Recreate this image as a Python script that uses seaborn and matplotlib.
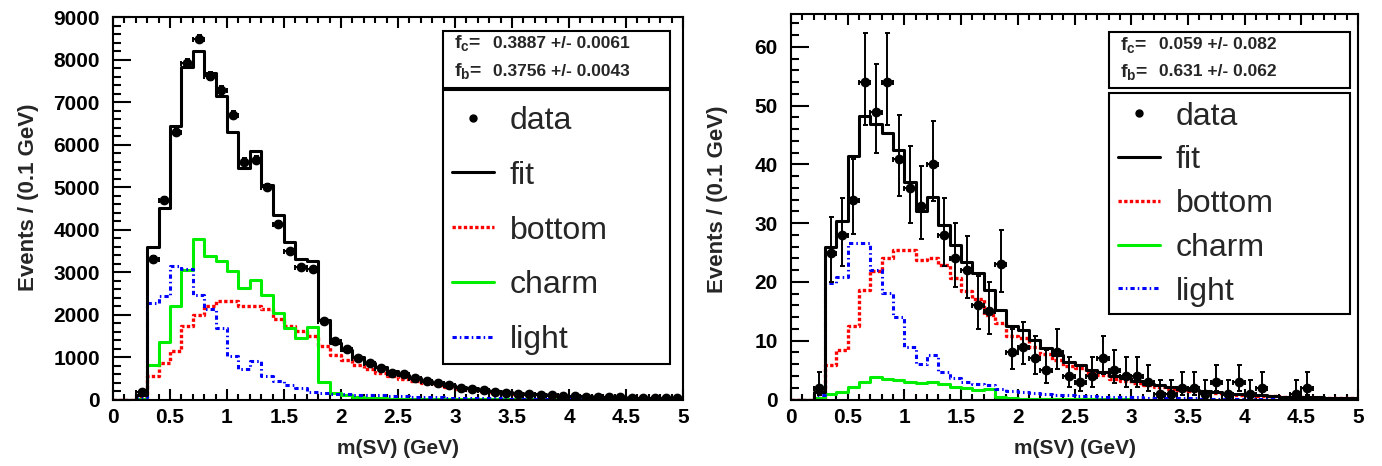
import math
import numpy as np
import pandas as pd
import matplotlib
matplotlib.use("Agg")
import matplotlib.pyplot as plt
import seaborn as sns
from matplotlib.lines import Line2D
from matplotlib.patches import Rectangle
from matplotlib.ticker import MultipleLocator, FuncFormatter

# ---- binning: 50 bins of 0.1 GeV in m(SV) ----
BIN_WIDTH = 0.1
bin_edges = np.round(np.arange(0.0, 5.0001, BIN_WIDTH), 2)
bin_centers = 0.5 * (bin_edges[:-1] + bin_edges[1:])

# ---- left panel (high-statistics sample) ----
data_left = [0, 0, 170, 3320, 4700, 6300, 7920, 8500, 7620, 7290,
             6710, 5600, 5650, 5000, 4140, 3490, 3120, 3070, 1840, 1385,
             1195, 980, 865, 745, 630, 590, 510, 430, 378, 337,
             275, 236, 220, 181, 157, 141, 125, 110, 100, 90,
             80, 70, 62, 55, 48, 42, 37, 32, 28, 25]
fit_left = [0, 0, 100, 3590, 4500, 6450, 7830, 8200, 7680, 7150,
            6300, 5460, 5840, 5050, 4350, 3715, 3300, 3260, 1870, 1320,
            1160, 1000, 870, 755, 660, 580, 510, 445, 390, 342,
            298, 262, 230, 202, 177, 155, 136, 119, 105, 92,
            81, 71, 62, 55, 48, 42, 37, 33, 29, 25]
bottom_left = [0, 0, 30, 550, 865, 1140, 1730, 1980, 2200, 2330,
               2330, 2200, 2200, 2120, 1885, 1730, 1610, 1490, 1260, 1050,
               920, 815, 720, 632, 557, 493, 436, 382, 336, 295,
               257, 226, 199, 175, 154, 135, 119, 104, 92, 81,
               71, 62, 54, 48, 42, 37, 32, 29, 25, 22]
charm_left = [0, 0, 20, 820, 1350, 2210, 3060, 3770, 3380, 3260,
              3020, 2630, 2810, 2460, 2040, 1690, 1450, 1700, 410, 150,
              110, 70, 45, 28, 18, 12, 8, 5, 3, 2,
              1, 1, 1, 1, 1, 1, 1, 1, 1, 1,
              1, 1, 1, 1, 1, 1, 1, 1, 1, 1]
light_left = [0, 0, 50, 2280, 2430, 3140, 3080, 2470, 2120, 1690,
              1020, 710, 900, 550, 430, 350, 275, 170, 160, 130,
              130, 115, 105, 95, 85, 75, 66, 58, 51, 45,
              40, 35, 30, 26, 22, 19, 16, 14, 12, 10,
              9, 8, 7, 6, 5, 4, 4, 3, 3, 2]
frac_left = ["0.3887 +/- 0.0061", "0.3756 +/- 0.0043"]

# ---- right panel (low-statistics sample) ----
data_right = [0, 0, 2, 25, 28, 34, 54, 49, 54, 41,
              36, 33, 40, 28, 24, 22, 16, 15, 23, 8,
              9, 7, 5, 8, 4, 3, 4, 7, 5, 4,
              4, 3, 1, 1, 2, 2, 1, 3, 1, 3,
              1, 2, 0, 0, 1, 2, 0, 0, 0, 0]
fit_right = [0, 0, 1.3, 26.0, 30.4, 41.4, 48.3, 46.8, 45.4, 42.5,
             37.0, 32.1, 34.5, 29.7, 26.3, 23.4, 21.5, 18.7, 15.3, 12.5,
             11.8, 10.1, 8.7, 7.6, 6.4, 5.9, 5.0, 4.6, 4.0, 3.6,
             3.1, 2.7, 2.4, 2.1, 1.8, 1.6, 1.4, 1.2, 1.0, 0.9,
             0.8, 0.7, 0.6, 0.5, 0.45, 0.4, 0.35, 0.3, 0.27, 0.24]
bottom_right = [0, 0, 0.3, 5.9, 8.5, 12.5, 18.7, 21.9, 24.0, 25.4,
                25.5, 23.7, 24.0, 22.9, 20.6, 18.5, 17.1, 14.4, 13.1, 10.8,
                10.5, 8.9, 7.75, 6.8, 5.7, 5.3, 4.45, 4.1, 3.55, 3.2,
                2.75, 2.4, 2.13, 1.86, 1.6, 1.42, 1.24, 1.06, 0.88, 0.8,
                0.7, 0.62, 0.53, 0.44, 0.4, 0.36, 0.31, 0.27, 0.24, 0.22]
charm_right = [0, 0, 0.2, 0.9, 1.2, 2.2, 3.0, 3.9, 3.5, 3.3,
               3.0, 2.8, 2.9, 2.6, 2.2, 1.9, 1.7, 1.8, 0.4, 0.2,
               0.12, 0.08, 0.05, 0.04, 0.03, 0.02, 0.02, 0.01, 0.01, 0.01,
               0, 0, 0, 0, 0, 0, 0, 0, 0, 0,
               0, 0, 0, 0, 0, 0, 0, 0, 0, 0]
light_right = [0, 0, 0.8, 19.8, 20.9, 26.6, 26.6, 22.0, 18.1, 14.1,
               9.0, 6.0, 7.6, 4.6, 3.6, 3.0, 2.7, 2.5, 1.8, 1.5,
               1.2, 1.1, 0.9, 0.8, 0.7, 0.6, 0.55, 0.5, 0.45, 0.4,
               0.35, 0.3, 0.27, 0.24, 0.2, 0.18, 0.16, 0.14, 0.12, 0.1,
               0.1, 0.08, 0.07, 0.06, 0.05, 0.04, 0.04, 0.03, 0.03, 0.02]
frac_right = ["0.059 +/- 0.082", "0.631 +/- 0.062"]

component_labels = ["data", "fit", "bottom", "charm", "light"]

# ---- style ----
sns.set_theme(style="ticks")
plt.rcParams["font.family"] = ["Liberation Sans", "DejaVu Sans"]
plt.rcParams["font.weight"] = "bold"
plt.rcParams["axes.labelweight"] = "bold"
plt.rcParams["mathtext.fontset"] = "custom"
plt.rcParams["mathtext.rm"] = "Liberation Sans:bold"
plt.rcParams["mathtext.bf"] = "Liberation Sans:bold"
plt.rcParams["mathtext.it"] = "Liberation Sans:bold"
plt.rcParams["axes.linewidth"] = 1.5
plt.rcParams["axes.edgecolor"] = "black"

RED = "#ff0000"
GREEN = "#00ee00"
BLUE = "#0000ff"
STYLES = {
    "fit": dict(color="black", linewidth=2.2, linestyle="-"),
    "bottom": dict(color=RED, linewidth=2.4, linestyle=(0, (1.0, 0.7))),
    "charm": dict(color=GREEN, linewidth=2.2, linestyle="-"),
    "light": dict(color=BLUE, linewidth=2.2, linestyle=(0, (1.4, 1.0, 0.5, 1.0))),
}


def poisson_interval(n, cl=0.682689):
    """Central (Garwood) Poisson interval for an observed count n."""
    alpha = (1.0 - cl) / 2.0
    logfact = np.concatenate([[0.0], np.cumsum(np.log(np.arange(1, n + 1)))]) if n > 0 else np.array([0.0])

    def cdf(m, mu):
        if m < 0:
            return 0.0
        k = np.arange(m + 1)
        lp = -mu + k * math.log(mu) - logfact[: m + 1]
        mx = lp.max()
        return math.exp(mx) * np.exp(lp - mx).sum()

    def solve(m, target, lo, hi):
        for _ in range(70):
            mid = 0.5 * (lo + hi)
            if cdf(m, mid) > target:
                lo = mid
            else:
                hi = mid
        return 0.5 * (lo + hi)

    span = 10 * math.sqrt(n + 1) + 10
    upper = solve(n, alpha, max(n, 1e-9), n + span)
    lower = 0.0 if n == 0 else solve(n - 1, 1.0 - alpha, max(n - span, 1e-9), n)
    return n - lower, upper - n


def draw_panel(ax, data, fit, bottom, charm, light, fracs, ymax, ymajor, yminor, legend_gap, legend_top,
               frac_box, legend_box):
    comps = {"bottom": bottom, "charm": charm, "light": light, "fit": fit}
    for name in ["bottom", "charm", "light", "fit"]:
        df = pd.DataFrame({"m": bin_centers, "w": np.asarray(comps[name], float)})
        sns.histplot(data=df, x="m", weights="w", binwidth=BIN_WIDTH, binrange=(0, 5),
                     element="step", fill=False, ax=ax, **STYLES[name])

    counts = np.asarray(data, int)
    mask = counts > 0
    errs = np.array([poisson_interval(int(n)) for n in counts[mask]]).T
    ax.errorbar(bin_centers[mask], counts[mask], yerr=errs, xerr=BIN_WIDTH / 2, fmt="o",
                color="black", ms=6, elinewidth=1.4, capsize=1.8, capthick=1.4, zorder=6)

    ax.set_xlim(0, 5)
    ax.set_ylim(0, ymax)
    ax.xaxis.set_major_locator(MultipleLocator(0.5))
    ax.xaxis.set_minor_locator(MultipleLocator(0.1))
    ax.yaxis.set_major_locator(MultipleLocator(ymajor))
    ax.yaxis.set_minor_locator(MultipleLocator(yminor))
    ax.xaxis.set_major_formatter(FuncFormatter(lambda v, p: f"{v:g}"))
    ax.yaxis.set_major_formatter(FuncFormatter(lambda v, p: f"{v:g}"))
    ax.tick_params(axis="both", which="both", direction="in", top=True, right=False,
                   width=1.5, color="black", labelcolor="black")
    ax.tick_params(axis="y", which="major", length=13, labelsize=15, pad=9.5)
    ax.tick_params(axis="y", which="minor", length=6)
    ax.tick_params(axis="x", which="major", length=8, labelsize=15, pad=6)
    ax.tick_params(axis="x", which="minor", length=4)
    for spine in ax.spines.values():
        spine.set_visible(True)
        spine.set_linewidth(1.5)
        spine.set_color("black")

    ax.set_xlabel("m(SV) (GeV)", fontsize=15, fontweight="bold")
    ax.set_ylabel("Events / (0.1 GeV)", fontsize=16, fontweight="bold")

    # fraction box
    x0, x1, y0, y1 = frac_box
    ax.add_patch(Rectangle((x0, y0), x1 - x0, y1 - y0, transform=ax.transAxes,
                           facecolor="white", edgecolor="black", linewidth=1.5, zorder=7))
    h = y1 - y0
    for i, (sub, val) in enumerate(zip(["c", "b"], fracs)):
        ty = y1 - h * (0.22 + 0.48 * i)
        ax.text(x0 + 0.02, ty, r"$\mathbf{f_{%s}}$=" % sub, transform=ax.transAxes,
                fontsize=14, fontweight="bold", va="center", ha="left", zorder=8)
        ax.text(x0 + 0.088, ty, val, transform=ax.transAxes,
                fontsize=12.5, fontweight="bold", va="center", ha="left", zorder=8)

    # legend box
    lx0, lx1, ly0, ly1 = legend_box
    ax.add_patch(Rectangle((lx0, ly0), lx1 - lx0, ly1 - ly0, transform=ax.transAxes,
                           facecolor="white", edgecolor="black", linewidth=1.5, zorder=7))
    handles = [
        Line2D([], [], color="black", marker="o", ms=5, linestyle="none"),
        Line2D([], [], **STYLES["fit"]),
        Line2D([], [], **STYLES["bottom"]),
        Line2D([], [], **STYLES["charm"]),
        Line2D([], [], **STYLES["light"]),
    ]
    leg = ax.legend(handles, component_labels, loc="upper left",
                    bbox_to_anchor=(lx0, legend_top), bbox_transform=ax.transAxes,
                    frameon=False, prop={"size": 23, "weight": "normal"},
                    handlelength=1.3, handletextpad=0.5, borderpad=0.28, borderaxespad=0,
                    labelspacing=legend_gap)
    leg.set_zorder(9)


fig = plt.figure(figsize=(13.82, 4.66), dpi=100)
ax_l = fig.add_axes([113 / 1382, 1 - 399.5 / 466, 570 / 1382, 382.2 / 466])
ax_r = fig.add_axes([791 / 1382, 1 - 399.5 / 466, 567 / 1382, 385.5 / 466])

draw_panel(ax_l, data_left, fit_left, bottom_left, charm_left, light_left, frac_left,
           9000, 1000, 200, 0.78, 0.792,
           (0.579, 0.977, 0.814, 0.965), (0.579, 0.977, 0.093, 0.810))
draw_panel(ax_r, data_right, fit_right, bottom_right, charm_right, light_right, frac_right,
           65.6, 10, 2, 0.43, 0.796,
           (0.561, 0.986, 0.807, 0.9525), (0.561, 0.986, 0.222, 0.796))

ax_l.yaxis.set_label_coords(-0.149, 0.53)
ax_r.yaxis.set_label_coords(-0.13, 0.52)
ax_l.xaxis.set_label_coords(0.5, -0.127)
ax_r.xaxis.set_label_coords(0.5, -0.126)
for ax in (ax_l, ax_r):
    ax.yaxis.label.set_va("center")
    ax.yaxis.label.set_ha("center")
    ax.xaxis.label.set_va("center")

fig.savefig("out.png", dpi=100, facecolor="white")
